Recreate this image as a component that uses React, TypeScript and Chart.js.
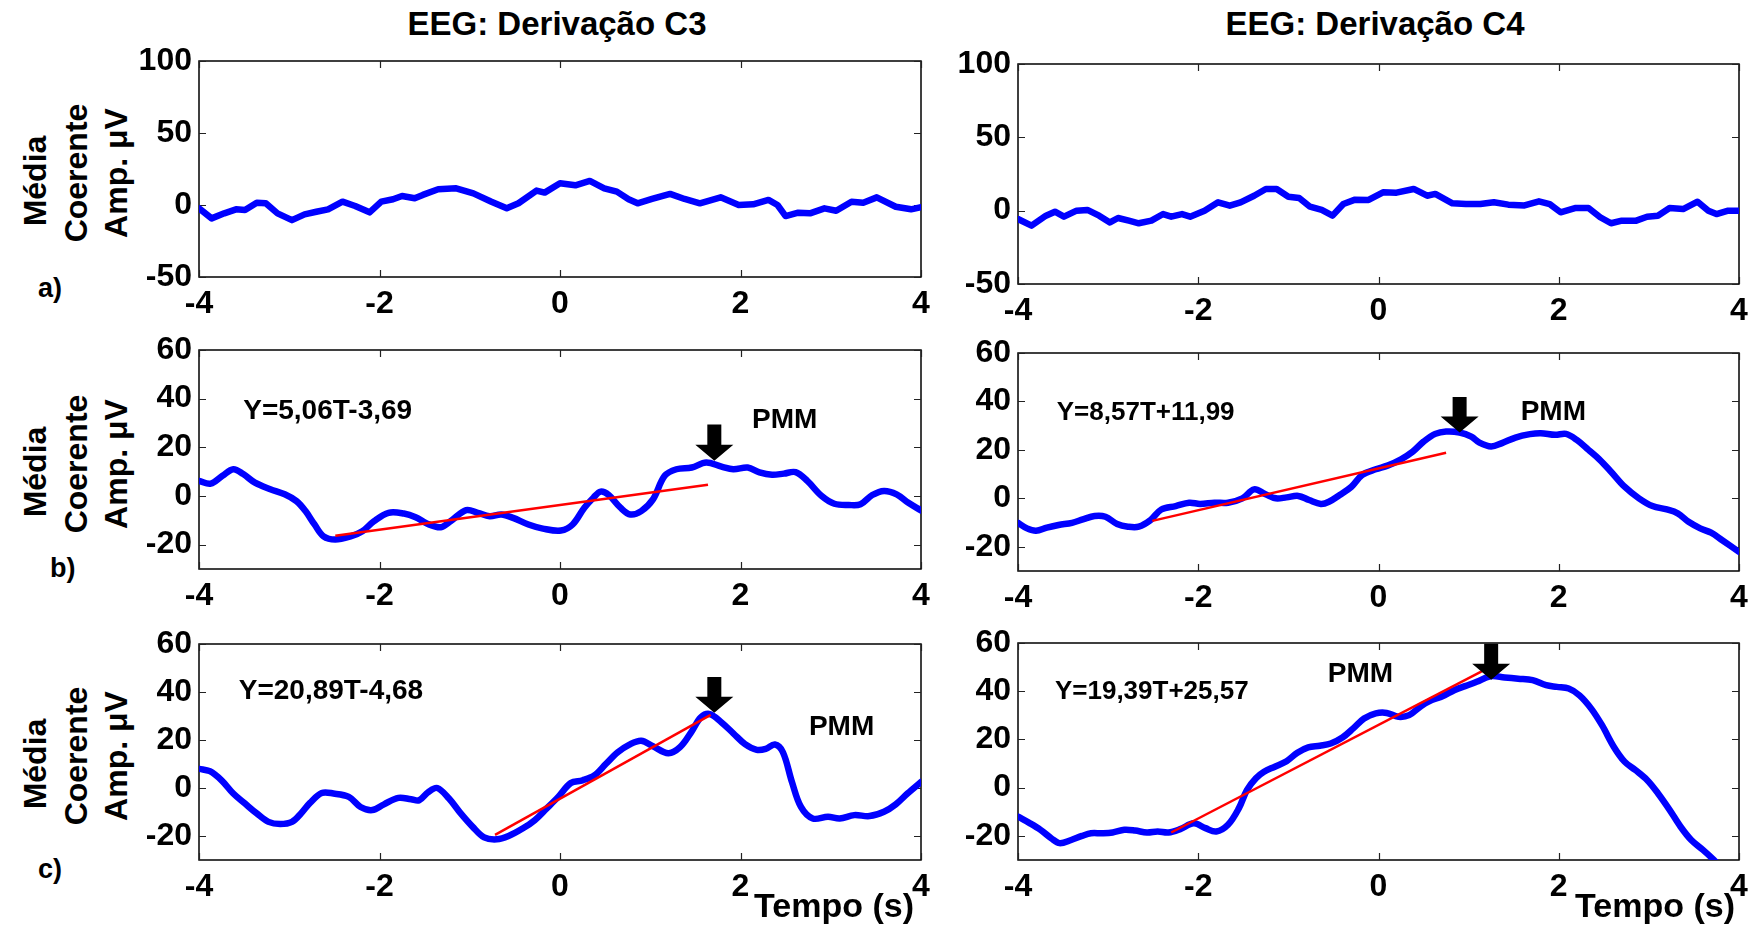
import React, { useEffect, useRef } from "react";
import { Chart, registerables } from "chart.js";

Chart.register(...registerables);

// ---------- data ----------
const xTickValues = [-4, -2, 0, 2, 4];
const yTicksTop = [-50, 0, 50, 100];
const yTicksLower = [-20, 0, 20, 40, 60];

// [time (s), amplitude (µV)]
const c3aSignal = [[-4.00,-2.3],[-3.86,-9.3],[-3.72,-5.8],[-3.59,-3.0],[-3.49,-3.5],[-3.36,1.6],[-3.26,1.2],[-3.13,-5.8],[-2.97,-10.5],[-2.83,-6.5],[-2.70,-4.7],[-2.57,-3.0],[-2.41,2.3],[-2.27,-0.7],[-2.11,-5.1],[-1.98,2.3],[-1.85,4.0],[-1.75,6.3],[-1.61,4.7],[-1.52,7.0],[-1.35,10.9],[-1.15,11.6],[-0.96,8.1],[-0.76,2.3],[-0.59,-2.3],[-0.46,1.2],[-0.26,10.0],[-0.17,8.6],[0.00,15.1],[0.17,13.7],[0.33,16.7],[0.49,11.6],[0.63,9.3],[0.76,4.0],[0.86,1.2],[1.02,4.2],[1.22,7.7],[1.38,4.2],[1.55,1.2],[1.78,5.3],[1.98,0.0],[2.14,0.5],[2.31,3.5],[2.41,0.0],[2.50,-7.7],[2.64,-5.3],[2.77,-5.8],[2.93,-2.3],[3.06,-4.0],[3.23,2.3],[3.36,1.6],[3.51,5.3],[3.72,-1.2],[3.89,-3.0],[4.00,-1.6]];

const c4aSignal = [[-4.00,-5.7],[-3.85,-10.2],[-3.69,-3.4],[-3.59,-0.7],[-3.49,-4.1],[-3.35,0.0],[-3.23,0.5],[-3.10,-3.4],[-2.98,-8.0],[-2.89,-5.0],[-2.77,-6.8],[-2.66,-8.6],[-2.52,-6.8],[-2.39,-2.3],[-2.30,-4.1],[-2.18,-2.3],[-2.09,-4.1],[-1.93,0.0],[-1.78,5.7],[-1.65,3.4],[-1.53,5.7],[-1.38,10.2],[-1.25,14.8],[-1.13,14.8],[-1.00,9.5],[-0.88,8.6],[-0.76,2.7],[-0.63,0.5],[-0.51,-3.4],[-0.39,4.5],[-0.26,7.5],[-0.11,7.3],[0.05,12.5],[0.20,12.3],[0.39,14.8],[0.54,10.2],[0.63,11.4],[0.82,5.0],[0.97,4.5],[1.13,4.5],[1.28,5.7],[1.44,4.1],[1.62,3.6],[1.78,6.4],[1.90,4.5],[2.02,-1.1],[2.18,1.8],[2.33,1.8],[2.46,-4.5],[2.58,-8.6],[2.70,-6.8],[2.86,-6.8],[2.98,-4.1],[3.10,-3.4],[3.23,1.8],[3.38,1.1],[3.54,6.1],[3.66,0.0],[3.75,-2.3],[3.88,0.0],[4.00,0.0]];

const c3bSignal = [[-4.00,6.2],[-3.87,5.1],[-3.74,8.3],[-3.62,11.0],[-3.51,9.0],[-3.38,5.5],[-3.21,2.8],[-3.05,0.7],[-2.92,-2.1],[-2.82,-6.2],[-2.72,-11.7],[-2.62,-16.6],[-2.49,-17.9],[-2.32,-16.6],[-2.19,-14.5],[-2.06,-10.3],[-1.90,-6.9],[-1.73,-7.2],[-1.60,-8.7],[-1.47,-11.4],[-1.32,-12.8],[-1.21,-10.3],[-1.04,-5.8],[-0.91,-6.9],[-0.78,-8.3],[-0.65,-7.6],[-0.52,-9.0],[-0.35,-11.7],[-0.19,-13.4],[0.01,-14.2],[0.14,-11.7],[0.27,-4.8],[0.37,-0.7],[0.45,1.8],[0.54,0.4],[0.67,-4.8],[0.78,-7.6],[0.90,-6.2],[1.03,-1.4],[1.16,8.3],[1.29,11.0],[1.46,11.7],[1.62,13.8],[1.79,12.1],[1.92,11.0],[2.08,11.7],[2.21,9.7],[2.35,8.7],[2.48,9.2],[2.61,9.8],[2.74,6.2],[2.90,0.0],[3.04,-3.2],[3.20,-3.7],[3.33,-3.4],[3.46,0.4],[3.59,2.1],[3.73,0.7],[3.86,-2.8],[4.00,-5.9]];

const c4bSignal = [[-4.00,-10.1],[-3.90,-12.4],[-3.80,-13.4],[-3.68,-12.1],[-3.55,-11.0],[-3.40,-10.1],[-3.28,-8.7],[-3.15,-7.3],[-3.03,-7.6],[-2.90,-10.6],[-2.78,-11.7],[-2.66,-11.7],[-2.53,-9.0],[-2.41,-4.6],[-2.25,-3.2],[-2.10,-1.8],[-1.98,-2.3],[-1.82,-1.8],[-1.67,-1.8],[-1.51,0.0],[-1.38,3.7],[-1.26,1.8],[-1.14,0.0],[-1.02,0.4],[-0.89,1.0],[-0.77,-0.7],[-0.64,-2.3],[-0.55,-1.4],[-0.43,1.4],[-0.30,4.8],[-0.18,9.7],[-0.03,12.0],[0.10,13.5],[0.25,16.1],[0.38,19.3],[0.50,23.4],[0.63,26.6],[0.75,27.6],[0.90,27.2],[1.03,25.5],[1.12,23.0],[1.25,21.4],[1.37,22.8],[1.52,25.1],[1.68,26.5],[1.80,26.9],[1.96,26.2],[2.08,26.6],[2.20,24.1],[2.33,20.0],[2.45,16.1],[2.58,11.0],[2.73,4.8],[2.89,0.0],[3.04,-3.2],[3.20,-4.6],[3.32,-6.2],[3.44,-9.7],[3.57,-12.4],[3.69,-14.2],[3.81,-17.2],[4.00,-22.1]];

const c3cSignal = [[-4.00,8.0],[-3.88,7.0],[-3.75,3.2],[-3.62,-2.3],[-3.49,-6.5],[-3.36,-10.6],[-3.23,-14.1],[-3.10,-15.0],[-2.97,-14.1],[-2.87,-10.6],[-2.77,-6.2],[-2.64,-2.1],[-2.51,-2.3],[-2.34,-3.7],[-2.21,-7.9],[-2.08,-9.2],[-1.95,-6.8],[-1.79,-4.1],[-1.65,-4.7],[-1.56,-5.1],[-1.46,-1.7],[-1.36,0.0],[-1.23,-4.4],[-1.10,-10.6],[-0.97,-16.1],[-0.84,-20.6],[-0.70,-21.4],[-0.57,-20.0],[-0.41,-16.8],[-0.28,-13.4],[-0.15,-8.6],[-0.02,-3.7],[0.12,2.1],[0.25,3.2],[0.38,5.2],[0.51,10.1],[0.64,14.9],[0.77,18.1],[0.90,19.7],[1.03,17.4],[1.20,14.5],[1.33,17.0],[1.46,23.6],[1.56,29.4],[1.66,30.8],[1.79,27.3],[1.92,22.8],[2.05,18.3],[2.18,15.9],[2.28,16.3],[2.38,18.1],[2.47,14.9],[2.57,2.5],[2.67,-7.9],[2.80,-12.7],[2.97,-12.0],[3.10,-12.7],[3.26,-11.3],[3.43,-11.7],[3.59,-9.9],[3.72,-6.8],[3.85,-2.3],[4.00,2.5]];

const c4cSignal = [[-4.00,-12.0],[-3.88,-14.5],[-3.75,-17.5],[-3.63,-21.0],[-3.54,-23.0],[-3.41,-21.7],[-3.29,-20.0],[-3.19,-18.9],[-3.07,-18.9],[-2.95,-18.6],[-2.82,-17.5],[-2.70,-17.8],[-2.57,-18.6],[-2.45,-18.2],[-2.33,-18.6],[-2.20,-17.2],[-2.05,-14.8],[-1.92,-16.8],[-1.80,-18.2],[-1.67,-15.4],[-1.55,-8.6],[-1.46,-1.0],[-1.36,3.9],[-1.27,6.6],[-1.15,8.7],[-1.02,11.0],[-0.90,14.5],[-0.78,16.7],[-0.65,17.4],[-0.53,18.3],[-0.40,20.8],[-0.28,24.6],[-0.16,28.7],[-0.03,30.8],[0.09,31.0],[0.22,29.4],[0.34,30.1],[0.47,33.8],[0.59,36.3],[0.71,37.9],[0.84,40.4],[0.96,42.1],[1.09,43.9],[1.24,46.2],[1.40,45.7],[1.55,45.2],[1.71,44.6],[1.86,42.5],[1.98,41.8],[2.11,41.1],[2.23,38.3],[2.36,32.8],[2.48,25.9],[2.61,17.0],[2.73,10.8],[2.85,7.3],[2.98,3.2],[3.10,-2.3],[3.23,-9.2],[3.35,-16.1],[3.47,-21.7],[3.60,-25.8],[3.72,-29.9],[3.80,-33.0]];

// regression lines: endpoints [time, amplitude]
const c3bFit = [[-2.49,-16.3],[1.64,4.6]];
const c4bFit = [[-2.51,-9.3],[0.75,18.8]];
const c3cFit = [[-0.72,-19.5],[1.67,30.5]];
const c4cFit = [[-2.30,-18.6],[1.15,48.3]];

// PMM arrows: [time, tip amplitude, tail amplitude]
const c3bArrow = [1.71, 14.5, 29.4];
const c4bArrow = [0.90, 27.2, 41.8];
const c3cArrow = [1.71, 31.4, 46.2];
const c4cArrow = [1.25, 44.8, 59.7];

// text annotations: [time, amplitude, text]
const c3bNotes = [[-3.51, 34.9, "Y=5,06T-3,69"], [2.49, 31.2, "PMM"]];
const c4bNotes = [[-3.57, 35.2, "Y=8,57T+11,99"], [1.94, 35.6, "PMM"]];
const c3cNotes = [[-3.56, 40.4, "Y=20,89T-4,68"], [3.12, 25.4, "PMM"]];
const c4cNotes = [[-3.59, 39.7, "Y=19,39T+25,57"], [-0.20, 47.1, "PMM"]];

// ---------- layout / style ----------
const FONT = '"Liberation Sans", Arial, Helvetica, sans-serif';
const YW = 75;
const XH = 48;
const PT = 22;
const PR = 14;

type PanelDef = {
  L: number; T: number; R: number; B: number;
  yMin: number; yMax: number; yTicks: number[];
  signal: number[][]; fit?: number[][]; arrow?: number[]; notes?: any[];
  tension: number; eqSize: number;
};

const panels: PanelDef[] = [
  { L: 199, T: 61, R: 921, B: 277, yMin: -50, yMax: 100, yTicks: yTicksTop, signal: c3aSignal, tension: 0, eqSize: 28 },
  { L: 1018, T: 64, R: 1739, B: 284, yMin: -50, yMax: 100, yTicks: yTicksTop, signal: c4aSignal, tension: 0, eqSize: 26 },
  { L: 199, T: 350, R: 921, B: 569, yMin: -30, yMax: 60, yTicks: yTicksLower, signal: c3bSignal, fit: c3bFit, arrow: c3bArrow, notes: c3bNotes, tension: 0.35, eqSize: 28 },
  { L: 1018, T: 353, R: 1739, B: 571, yMin: -30, yMax: 60, yTicks: yTicksLower, signal: c4bSignal, fit: c4bFit, arrow: c4bArrow, notes: c4bNotes, tension: 0.35, eqSize: 26 },
  { L: 199, T: 644, R: 921, B: 860, yMin: -30, yMax: 60, yTicks: yTicksLower, signal: c3cSignal, fit: c3cFit, arrow: c3cArrow, notes: c3cNotes, tension: 0.35, eqSize: 28 },
  { L: 1018, T: 643, R: 1739, B: 860, yMin: -30, yMax: 60, yTicks: yTicksLower, signal: c4cSignal, fit: c4cFit, arrow: c4cArrow, notes: c4cNotes, tension: 0.35, eqSize: 26 },
];

function Panel({ p }: { p: PanelDef }) {
  const ref = useRef<HTMLCanvasElement | null>(null);
  const w = p.R - p.L + YW + PR;
  const h = p.B - p.T + PT + XH;

  useEffect(() => {
    const canvas = ref.current;
    if (!canvas) return;
    const tickFont = { family: FONT, size: 32, weight: "bold" as const };

    const framePlugin = {
      id: "matlabFrame",
      beforeDatasetsDraw(chart: any) {
        const { ctx, chartArea: a, scales } = chart;
        ctx.save();
        ctx.strokeStyle = "#000";
        ctx.lineWidth = 1.5;
        ctx.strokeRect(a.left, a.top, a.right - a.left, a.bottom - a.top);
        ctx.lineWidth = 1.2;
        ctx.strokeStyle = "#222";
        const tl = 7;
        ctx.beginPath();
        scales.x.ticks.forEach((t: any) => {
          const px = Math.round(scales.x.getPixelForValue(t.value)) + 0.5;
          ctx.moveTo(px, a.bottom); ctx.lineTo(px, a.bottom - tl);
          ctx.moveTo(px, a.top); ctx.lineTo(px, a.top + tl);
        });
        scales.y.ticks.forEach((t: any) => {
          const py = Math.round(scales.y.getPixelForValue(t.value)) + 0.5;
          ctx.moveTo(a.left, py); ctx.lineTo(a.left + tl, py);
          ctx.moveTo(a.right, py); ctx.lineTo(a.right - tl, py);
        });
        ctx.stroke();
        ctx.restore();
      },
      afterDatasetsDraw(chart: any) {
        const { ctx, scales } = chart;
        const sx = scales.x, sy = scales.y;
        ctx.save();
        if (p.arrow) {
          const x = sx.getPixelForValue(p.arrow[0]);
          const yTip = sy.getPixelForValue(p.arrow[1]);
          const yTail = sy.getPixelForValue(p.arrow[2]);
          const headH = 16, headW = 38, shaftW = 14;
          ctx.fillStyle = "#000";
          ctx.beginPath();
          ctx.moveTo(x - shaftW / 2, yTail);
          ctx.lineTo(x + shaftW / 2, yTail);
          ctx.lineTo(x + shaftW / 2, yTip - headH);
          ctx.lineTo(x + headW / 2, yTip - headH);
          ctx.lineTo(x, yTip);
          ctx.lineTo(x - headW / 2, yTip - headH);
          ctx.lineTo(x - shaftW / 2, yTip - headH);
          ctx.closePath();
          ctx.fill();
        }
        if (p.notes) {
          ctx.fillStyle = "#000";
          ctx.textBaseline = "middle";
          p.notes.forEach((n: any) => {
            const isPmm = n[2] === "PMM";
            ctx.font = `bold ${isPmm ? 28 : p.eqSize}px ${FONT}`;
            ctx.textAlign = isPmm ? "center" : "left";
            ctx.fillText(n[2], sx.getPixelForValue(n[0]), sy.getPixelForValue(n[1]));
          });
        }
        ctx.restore();
      },
    };

    const datasets: any[] = [];
    if (p.fit) {
      datasets.push({
        data: p.fit.map(([x, y]) => ({ x, y })),
        borderColor: "#ff0000",
        borderWidth: 2.5,
        pointRadius: 0,
        tension: 0,
        order: 0,
      });
    }
    datasets.push({
      data: p.signal.map(([x, y]) => ({ x, y })),
      borderColor: "#0000ff",
      borderWidth: 6.5,
      pointRadius: 0,
      tension: p.tension,
      borderCapStyle: "round",
      borderJoinStyle: "round",
      order: 1,
    });

    const chart = new Chart(canvas, {
      type: "line",
      data: { datasets },
      options: {
        animation: false,
        responsive: false,
        devicePixelRatio: 1,
        layout: { padding: { top: PT, right: PR, left: 0, bottom: 0 } },
        plugins: { legend: { display: false }, tooltip: { enabled: false }, title: { display: false } },
        scales: {
          x: {
            type: "linear",
            min: -4,
            max: 4,
            grid: { display: false, drawTicks: false },
            border: { display: false },
            ticks: { font: tickFont, color: "#000", padding: 8, callback: (v: any) => String(v) },
            afterBuildTicks: (s: any) => { s.ticks = xTickValues.map((v) => ({ value: v })); },
            afterFit: (s: any) => { s.height = XH; s.paddingLeft = 0; s.paddingRight = 0; },
          },
          y: {
            type: "linear",
            min: p.yMin,
            max: p.yMax,
            grid: { display: false, drawTicks: false },
            border: { display: false },
            ticks: { font: tickFont, color: "#000", padding: 7, callback: (v: any) => String(v) },
            afterBuildTicks: (s: any) => { s.ticks = p.yTicks.map((v) => ({ value: v })); },
            afterFit: (s: any) => { s.width = YW; s.paddingTop = 0; s.paddingBottom = 0; },
          },
        },
      } as any,
      plugins: [framePlugin],
    });
    return () => chart.destroy();
  }, []);

  return (
    <canvas
      ref={ref}
      width={w}
      height={h}
      style={{ position: "absolute", left: p.L - YW, top: p.T - PT, width: w, height: h }}
    />
  );
}

const textBase: React.CSSProperties = {
  position: "absolute",
  fontFamily: FONT,
  fontWeight: "bold",
  color: "#000",
  whiteSpace: "nowrap",
};

function YLabel({ cx, cy, text }: { cx: number; cy: number; text: string }) {
  return (
    <div
      style={{
        ...textBase,
        fontSize: 32,
        lineHeight: "32px",
        left: cx,
        top: cy,
        transform: "translate(-50%, -50%) rotate(-90deg)",
      }}
    >
      {text}
    </div>
  );
}

const rowLabelCenters = [173, 464, 756];
const rowLetters = [
  { t: "a)", left: 38, top: 275 },
  { t: "b)", left: 50, top: 555 },
  { t: "c)", left: 38, top: 856 },
];

export default function App() {
  useEffect(() => {
    document.body.style.margin = "0";
  }, []);
  return (
    <div style={{ position: "fixed", left: 0, top: 0, width: 1753, height: 927, background: "#fff", overflow: "hidden" }}>
      <div style={{ ...textBase, fontSize: 33, lineHeight: "33px", left: 357, width: 400, top: 7, textAlign: "center" }}>
        EEG: Derivação C3
      </div>
      <div style={{ ...textBase, fontSize: 33, lineHeight: "33px", left: 1175, width: 400, top: 7, textAlign: "center" }}>
        EEG: Derivação C4
      </div>
      {rowLabelCenters.map((cy, i) => (
        <React.Fragment key={i}>
          <YLabel cx={35} cy={cy + 8} text="Média" />
          <YLabel cx={76} cy={cy} text="Coerente" />
          <YLabel cx={116} cy={cy} text="Amp. μV" />
        </React.Fragment>
      ))}
      {rowLetters.map((r) => (
        <div key={r.t} style={{ ...textBase, fontSize: 27, lineHeight: "27px", left: r.left, top: r.top }}>
          {r.t}
        </div>
      ))}
      {panels.map((p, i) => (
        <Panel key={i} p={p} />
      ))}
      <div style={{ ...textBase, fontSize: 34, lineHeight: "34px", left: 614, width: 300, top: 888, textAlign: "right" }}>
        Tempo (s)
      </div>
      <div style={{ ...textBase, fontSize: 34, lineHeight: "34px", left: 1435, width: 300, top: 888, textAlign: "right" }}>
        Tempo (s)
      </div>
    </div>
  );
}
